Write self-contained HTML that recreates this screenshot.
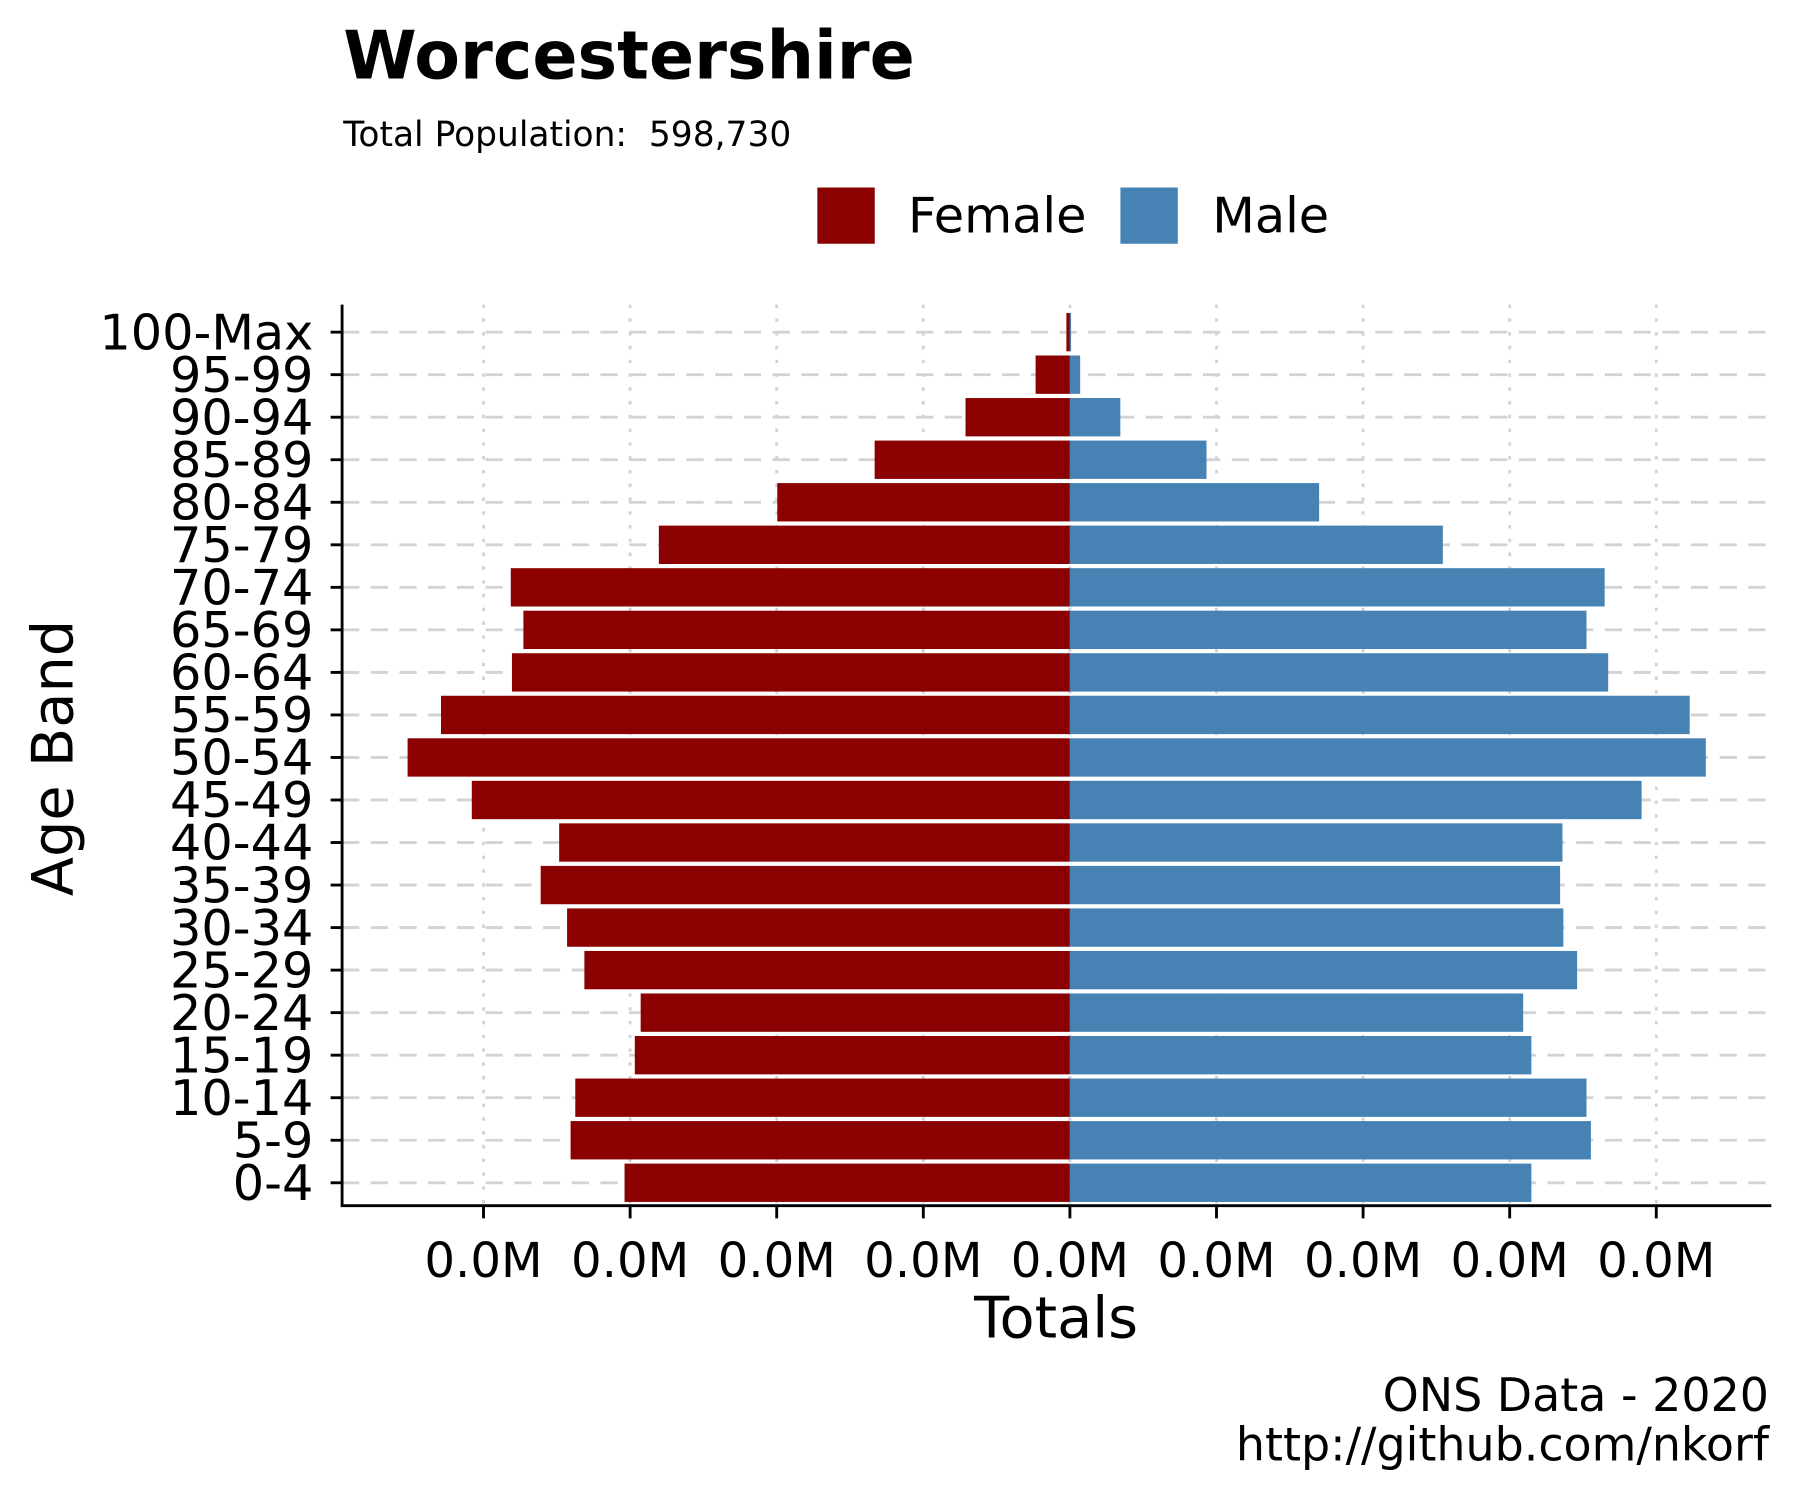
<!DOCTYPE html>
<html><head><meta charset="utf-8"><style>html,body{margin:0;padding:0;background:#fff}svg{display:block}text{font-family:"DejaVu Sans","Liberation Sans",sans-serif}</style></head>
<body>
<svg id="chart" width="1800" height="1500" viewBox="0 0 1568 1306" xmlns="http://www.w3.org/2000/svg">
<text x="299" y="68" font-size="58" font-weight="bold">Worcestershire</text>
<text x="299" y="127" font-size="30" xml:space="preserve" style="white-space:pre">Total Population:  598,730</text>
<rect x="712" y="163" width="50" height="49" fill="#8b0000"/>
<text x="791" y="202" font-size="43">Female</text>
<rect x="976" y="163" width="50" height="49" fill="#4682b4"/>
<text x="1056" y="202" font-size="43">Male</text>
<g id="grid"></g><g id="bars"></g><g id="axes"></g>
<text transform="translate(63,660) rotate(-90)" text-anchor="middle" font-size="50">Age Band</text>
<text x="920" y="1165" text-anchor="middle" font-size="50">Totals</text>
<text x="1541" y="1229" text-anchor="end" font-size="40">ONS Data - 2020</text>
<text x="1541" y="1272" text-anchor="end" font-size="40">http://github.com/nkorf</text>
</svg>
<script>
const ageBands=["0-4","5-9","10-14","15-19","20-24","25-29","30-34","35-39","40-44","45-49","50-54","55-59","60-64","65-69","70-74","75-79","80-84","85-89","90-94","95-99","100-Max"];
const femaleValues=[15190,17030,16870,14840,14640,16560,17150,18050,17420,20400,22590,21450,19030,18640,19070,14020,9980,6660,3560,1170,120];
const maleValues=[15740,17770,17620,15740,15460,17300,16830,16720,16800,19500,21690,21140,18360,17620,18240,12720,8500,4660,1720,350,40];
const xTicks=[-20000,-15000,-10000,-5000,0,5000,10000,15000,20000];
const xTickLabels=["0.0M","0.0M","0.0M","0.0M","0.0M","0.0M","0.0M","0.0M","0.0M"];
const NS="http://www.w3.org/2000/svg";
const L=298,R=1543,T=265,B=1050,X0=932,PX=127.7/5000;
const xs=v=>X0+v*PX;
const ys=i=>1030-i*(741/20);
function mk(tag,attrs,parent,txt){const e=document.createElementNS(NS,tag);for(const k in attrs)e.setAttribute(k,attrs[k]);if(txt!==undefined)e.textContent=txt;document.getElementById(parent).appendChild(e);return e;}
const G="grid",Bg="bars",A="axes";
xTicks.forEach((t,i)=>{
 const g=mk("line",{x1:xs(t),x2:xs(t),y1:T,y2:B,stroke:"#d3d3d3","stroke-width":2.5,"stroke-dasharray":"3,9"},G);
 
 
 const tk=mk("line",{x1:xs(t),x2:xs(t),y1:B,y2:B+11,stroke:"#000","stroke-width":2.5},A);
 
 
 const lb=mk("text",{x:xs(t),y:1112,"text-anchor":"middle","font-size":42},A,xTickLabels[i]);
 
 
});
ageBands.forEach((a,i)=>{
 const y=ys(i);
 const g=mk("line",{x1:L,x2:R,y1:y,y2:y,stroke:"#d3d3d3","stroke-width":2.5,"stroke-dasharray":"15,10"},G);
 
 
 const f=mk("rect",{x:xs(-femaleValues[i]),y:y-16.7,width:X0-xs(-femaleValues[i]),height:33.4,fill:"#8b0000"},Bg);
 
 
 const m=mk("rect",{x:X0,y:y-16.7,width:xs(maleValues[i])-X0,height:33.4,fill:"#4682b4"},Bg);
 
 
 const tk=mk("line",{x1:L-10,x2:L,y1:y,y2:y,stroke:"#000","stroke-width":2.5},A);
 
 
 const lb=mk("text",{x:L-25,y:y+15,"text-anchor":"end","font-size":43},A,a);
 
 
});
const ya=mk("line",{x1:L,x2:L,y1:T,y2:B+1,stroke:"#000","stroke-width":2.5},A);


const xa=mk("line",{x1:L-1,x2:R,y1:B,y2:B,stroke:"#000","stroke-width":2.5},A);


</script>
</body></html>
